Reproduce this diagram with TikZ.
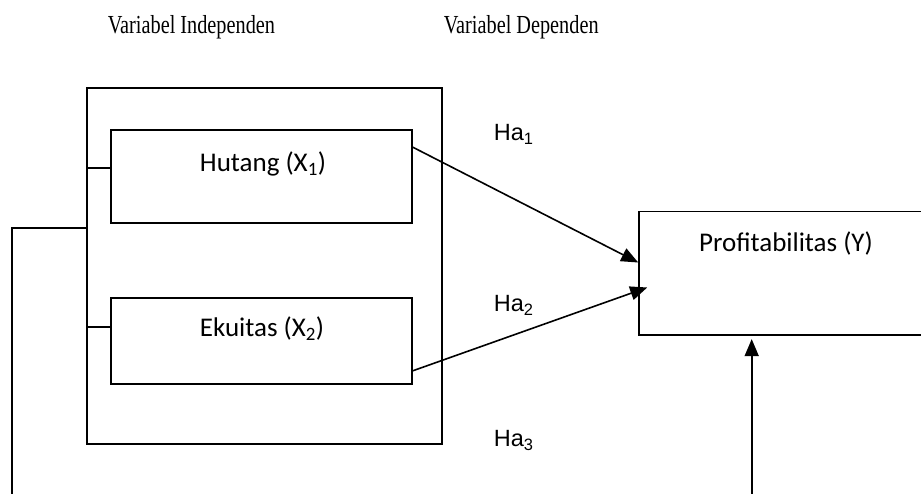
\documentclass[tikz,border=0pt]{standalone}
\usepackage{fontspec}
\usetikzlibrary{arrows.meta,calc}
\newfontfamily\serifT{Liberation Serif}
\newfontfamily\calib{Carlito}
\newfontfamily\arialf{Liberation Sans}
\begin{document}
\begin{tikzpicture}[x=1pt,y=-1pt,
  line width=1.6pt,
  box/.style={draw,rectangle,inner sep=0pt},
  hdr/.style={anchor=base west,inner sep=0pt,font=\serifT\fontsize{26}{29}\selectfont},
  lbl/.style={anchor=base,inner sep=0pt,font=\calib\fontsize{27}{30}\selectfont},
  ha/.style={anchor=base west,inner sep=0pt,font=\arialf\fontsize{23.5}{26}\selectfont},
  arr/.style={-{Triangle[length=17pt,width=14pt]}}]
\useasboundingbox (0,0) rectangle (921,494);
% headers
\node[hdr] (h1) at (107,33.3) {\scalebox{0.78}[1]{Variabel Independen}};
\node[hdr] (h2) at (443,33.3) {\scalebox{0.78}[1]{Variabel Dependen}};
% boxes
\node[box,minimum width=355pt,minimum height=356pt] (outer) at (264.5,266) {};
\node[box,minimum width=301pt,minimum height=93pt] (hut) at (261.5,176.5) {};
\node[box,minimum width=301pt,minimum height=86pt] (eku) at (261.5,341) {};
\node[box,minimum width=322pt,minimum height=123.6pt] (prof) at (800,273.5) {};
% texts
\node[lbl] (thut) at (263,171.7) {Hutang (X\textsubscript{1})};
\node[lbl] (teku) at (262,336.7) {Ekuitas (X\textsubscript{2})};
\node[lbl] (tprof) at (786,251.7) {Profitabilitas (Y)};
\node[ha] (ha1) at (493,140.7) {Ha\textsubscript{1}};
\node[ha] (ha2) at (493,311.7) {Ha\textsubscript{2}};
\node[ha] (ha3) at (493,446.7) {Ha\textsubscript{3}};
% small connectors
\coordinate (c1) at ([yshift=8.5pt]hut.west);
\coordinate (c2) at ([yshift=14pt]eku.west);
\draw (c1) -- (c1 -| outer.west);
\draw (c2) -- (c2 -| outer.west);
% left line
\coordinate (lb) at (12,494);
\draw ([yshift=38pt]outer.west) -| (lb);
% arrows
\draw[arr] ([yshift=-18pt]hut.north east) -- ([yshift=11pt]prof.west);
\draw[arr] ([yshift=14pt]eku.south east) -- ([xshift=9pt,yshift=-14pt]prof.west);
\coordinate (b3) at (751.7,494);
\draw[arr,shorten >=3pt] (b3) -- (b3 |- prof.south);
\end{tikzpicture}
\end{document}
